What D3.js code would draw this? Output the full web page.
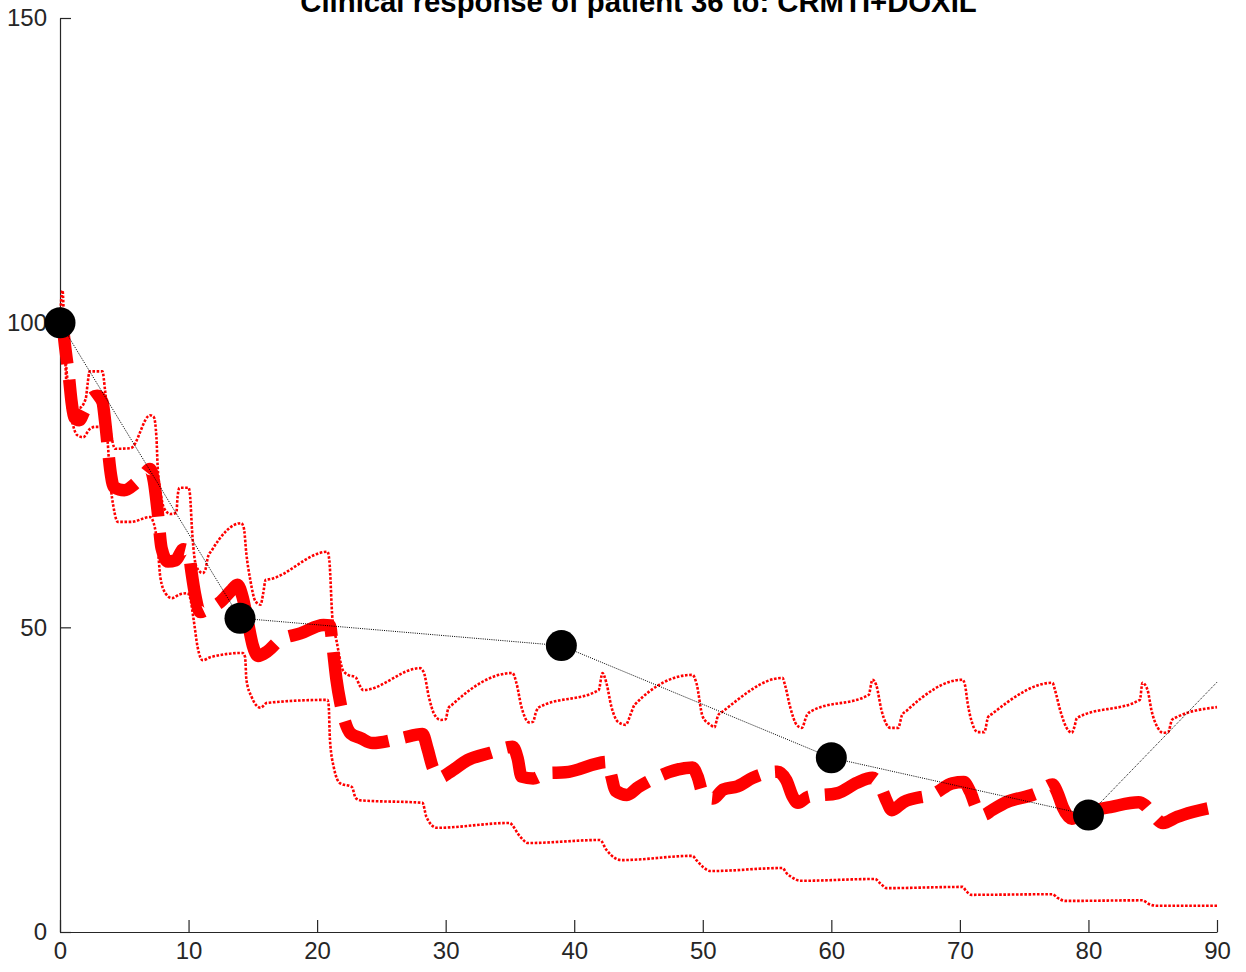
<!DOCTYPE html>
<html>
<head>
<meta charset="utf-8">
<script src="https://cdn.jsdelivr.net/npm/d3@7"></script>
<style>
  html, body { margin: 0; padding: 0; background: #fff; }
  svg { display: block; }
  text { font-family: "Liberation Sans", Arial, Helvetica, sans-serif; }
</style>
</head>
<body>
<script>
// ---------------- DATA ----------------
const chartTitle = "Clinical response of patient 36 to: CRMTI+DOXIL";
const xTicks = [0, 10, 20, 30, 40, 50, 60, 70, 80, 90];
const yTicks = [0, 50, 100, 150];

// observed tumour burden (black markers) and the connecting line
const obsDays   = [0, 14, 39, 60, 80];
const obsValues = [100, 51.5, 47, 28.6, 19.2];
const lineDays   = [0, 14, 39, 60, 80, 90];
const lineValues = [100, 51.5, 47, 28.6, 19.2, 41];

// simulated mean response (thick red dashed)
const meanCurve = [
  [0,102],[0.15,100.5],[0.4,96],[0.7,91],[0.9,87],[1.1,84.5],[1.5,84],[1.9,85.5],[2.4,87.5],[2.9,88],
  [3.3,87],[3.5,84],[3.7,80],[3.9,76],[4.2,73],[5,72.5],[5.8,73.5],[6.5,75],[7.0,76],[7.3,74],
  [7.6,69],[7.9,63],[8.4,60.8],[9.0,61],[9.6,62.8],[10.0,62.5],[10.2,59.5],[10.5,55.5],[10.9,52.5],[11.5,53],
  [12.5,54.2],[13.3,56],[13.8,57],[14.2,55],[14.6,51],[15.0,47],[15.4,45.3],[16.1,46],[17.1,47.9],[18.7,49],
  [20.5,50.4],[21.0,50.3],[21.2,47],[21.5,41.5],[21.8,37.7],[22.1,35],[22.6,32.6],[23.4,31.8],[24.3,31],[26.5,31.8],
  [28.2,32.5],[28.6,30],[29.0,27],[29.6,25.4],[30.3,26.2],[31.7,28.2],[33.5,29.4],[35.2,30.4],[35.6,28.5],[35.9,25.5],
  [36.8,25.2],[37.9,26.1],[39.3,26.2],[42.6,27.9],[42.9,25.5],[43.2,23.2],[44.1,22.5],[45.0,23.8],[46.3,25.3],[49.2,27],
  [49.6,25.5],[50.0,22.8],[50.8,21.9],[51.6,23.4],[52.7,23.9],[53.9,25.3],[55.8,26.3],[56.5,24.9],[57.0,22.2],[57.4,21.2],
  [58.2,22.2],[60.5,22.8],[62.0,24.5],[63.2,25.3],[63.8,24],[64.3,21.5],[64.7,20],[65.6,21.3],[68.1,22.8],[69.4,24.4],
  [70.3,24.6],[70.8,23],[71.3,20.3],[71.8,19.2],[72.5,20],[73.5,21.2],[76.0,22.8],[77.2,24.2],[77.6,22.8],[78.0,20.5],
  [78.7,18.6],[79.5,19.2],[80.5,20],[81.7,20.5],[83.9,21.3],[84.4,20.8],[85.0,19.3],[85.8,17.9],[86.9,18.9],[88.1,19.7],
  [90,20.6]
];

// upper bound of simulated response (thin red dotted)
const upperCurve = [
  [0,100],[0.1,104],[0.2,105.3],[0.3,101],[0.45,94],[0.7,89],[1.0,86.5],[1.5,86],[2.0,87.5],[2.15,90],
  [2.3,92],[3.3,92],[3.5,89],[3.7,85],[3.9,82.4],[4.3,79.3],[5.5,79.4],[7.0,84.8],[7.3,84.5],[7.5,81.2],
  [7.6,76.3],[7.8,72.5],[8.1,69.5],[8.6,68.6],[9.05,68.8],[9.15,71.5],[9.3,72.9],[10.0,72.9],[10.1,72],[10.3,65],
  [10.6,60],[11.1,58.9],[11.3,59.4],[11.5,61.5],[11.8,62.6],[14.1,67.1],[14.3,66.3],[14.5,62],[14.8,57.8],[15.2,54.3],
  [15.6,53.7],[15.8,55.5],[16.0,57.8],[16.3,57.9],[20.8,62.4],[20.95,61],[21.2,51.2],[21.5,47.9],[22.0,43],[22.4,42.2],
  [23.0,41.8],[23.3,40.5],[23.6,39.7],[28.0,43.3],[28.3,42.6],[28.7,38.5],[29.1,35.8],[29.6,34.8],[30.0,34.9],[30.2,36.7],
  [30.5,37.3],[35.2,42.5],[35.5,40.9],[35.9,36.9],[36.5,34.4],[36.8,34.5],[37.0,35.9],[37.2,36.8],[41.9,39.7],[42.2,42.5],
  [42.5,40.9],[42.9,36.9],[43.4,34.5],[44.0,34.0],[44.4,35.8],[44.7,37.3],[49.2,42.2],[49.5,40.9],[50.0,35.3],[50.6,34],
  [50.9,33.6],[51.2,35.6],[51.5,36.1],[56.2,41.7],[56.4,40.5],[56.8,36.9],[57.3,34],[57.7,33.5],[58.1,35.6],[58.4,36.2],
  [62.9,38.9],[63.2,41.4],[63.5,40.5],[63.9,36.4],[64.6,33.5],[65.2,33.5],[65.5,35.6],[65.9,36.4],[70.2,41.4],[70.4,40.5],
  [70.6,37.6],[71.0,34.0],[71.4,32.8],[71.9,32.8],[72.2,35.3],[72.5,35.8],[77.2,40.9],[77.4,39.7],[77.8,36.4],[78.3,33.5],
  [78.7,32.7],[78.9,33.6],[79.1,35.1],[84.0,38.1],[84.2,40.9],[84.6,39.7],[84.9,36.4],[85.4,33.5],[85.8,32.7],[86.2,32.8],
  [86.5,34.8],[86.9,35.3],[90,36.9]
];

// lower bound of simulated response (thin red dotted)
const lowerCurve = [
  [0,100],[0.2,99],[0.4,94],[0.6,86.2],[0.9,84],[1.3,81.6],[1.8,81.2],[2.3,82.5],[2.7,82.9],[3.6,82.9],
  [3.7,80.7],[3.9,74.2],[4.2,69.3],[4.5,67.3],[5.5,67.3],[7.0,68.1],[7.3,67],[7.6,63.2],[7.8,58.3],[8.2,55.6],
  [8.7,54.8],[9.3,55.4],[9.9,55.6],[10.1,55],[10.4,51.2],[10.7,46.8],[11.1,44.6],[11.7,45.1],[14.2,45.8],[14.4,45.1],
  [14.5,41.4],[14.9,38.6],[15.6,36.8],[16.1,37.6],[20.8,38.1],[20.9,37.2],[21.0,31.5],[21.3,27],[21.8,24.4],[22.7,23.8],
  [23.0,22],[23.4,21.6],[28.2,21.2],[28.5,18.9],[29.3,17.1],[35.0,17.9],[35.2,17.5],[35.6,16.2],[35.9,15.4],[36.4,14.6],
  [42.0,15.1],[42.5,13.5],[43.2,12.1],[43.7,11.8],[49.2,12.5],[49.5,11.8],[50.0,10.7],[50.6,10.0],[56.2,10.5],[56.5,9.7],
  [57.0,8.9],[57.6,8.4],[63.4,8.7],[63.8,8.0],[64.3,7.2],[70.2,7.4],[70.5,6.7],[70.9,6.1],[77.2,6.2],[77.6,5.6],
  [78.2,5.1],[84.2,5.2],[84.7,4.6],[85.3,4.3],[90,4.3]
];

// ---------------- CHART ----------------
(function () {
  const W = 1246, H = 972;
  const mLeft = 60, mRight = 1217, mTop = 18, mBottom = 932;
  const axisColor = "#262626";

  const svg = d3.select("body").append("svg").attr("width", W).attr("height", H);

  const x = d3.scaleLinear().domain([0, 90]).range([mLeft, mRight]);
  const y = d3.scaleLinear().domain([0, 150]).range([mBottom, mTop]);

  const line = d3.line().x(d => x(d[0])).y(d => y(d[1])).curve(d3.curveMonotoneX);

  // axes
  const xAxis = d3.axisBottom(x).tickValues(xTicks).tickSizeInner(-12).tickSizeOuter(0).tickPadding(10);
  const yAxis = d3.axisLeft(y).tickValues(yTicks).tickSizeInner(-11).tickSizeOuter(0).tickPadding(13);

  const gx = svg.append("g").attr("transform", `translate(0,${mBottom})`).call(xAxis);
  const gy = svg.append("g").attr("transform", `translate(${mLeft},0)`).call(yAxis);
  [gx, gy].forEach(g => {
    g.select(".domain").attr("stroke", axisColor).attr("stroke-width", 1.2);
    g.selectAll(".tick line").attr("stroke", axisColor).attr("stroke-width", 1.2);
    g.selectAll(".tick text").attr("fill", axisColor)
      .style("font-size", "24px").style("font-family", "'Liberation Sans', Arial, Helvetica, sans-serif");
  });

  // red simulated curves
  const curves = svg.append("g");
  curves.append("path").datum(upperCurve).attr("d", line)
    .attr("fill", "none").attr("stroke", "#ff0000").attr("stroke-width", 2.6)
    .attr("stroke-dasharray", "2.6,1.6");
  curves.append("path").datum(lowerCurve).attr("d", line)
    .attr("fill", "none").attr("stroke", "#ff0000").attr("stroke-width", 2.6)
    .attr("stroke-dasharray", "2.6,1.6");
  curves.append("path").datum(meanCurve).attr("d", line)
    .attr("fill", "none").attr("stroke", "#ff0000").attr("stroke-width", 12.5)
    .attr("stroke-linejoin", "round").attr("stroke-linecap", "butt")
    .attr("stroke-dasharray", "54,16");

  // observed line + markers
  const obsLine = d3.line().x(d => x(d[0])).y(d => y(d[1]));
  svg.append("path").datum(lineDays.map((d, i) => [d, lineValues[i]])).attr("d", obsLine)
    .attr("fill", "none").attr("stroke", "#000").attr("stroke-width", 1)
    .attr("stroke-dasharray", "1,1.2");
  svg.append("g").selectAll("circle").data(obsDays.map((d, i) => [d, obsValues[i]])).join("circle")
    .attr("cx", d => x(d[0])).attr("cy", d => y(d[1])).attr("r", 15.5).attr("fill", "#000");

  // title (partly above the visible area, as in the reference)
  svg.append("text").attr("x", (mLeft + mRight) / 2).attr("y", 12)
    .attr("text-anchor", "middle").attr("font-weight", "bold").attr("fill", "#000")
    .style("font-size", "29.3px").text(chartTitle);
})();
</script>
</body>
</html>
